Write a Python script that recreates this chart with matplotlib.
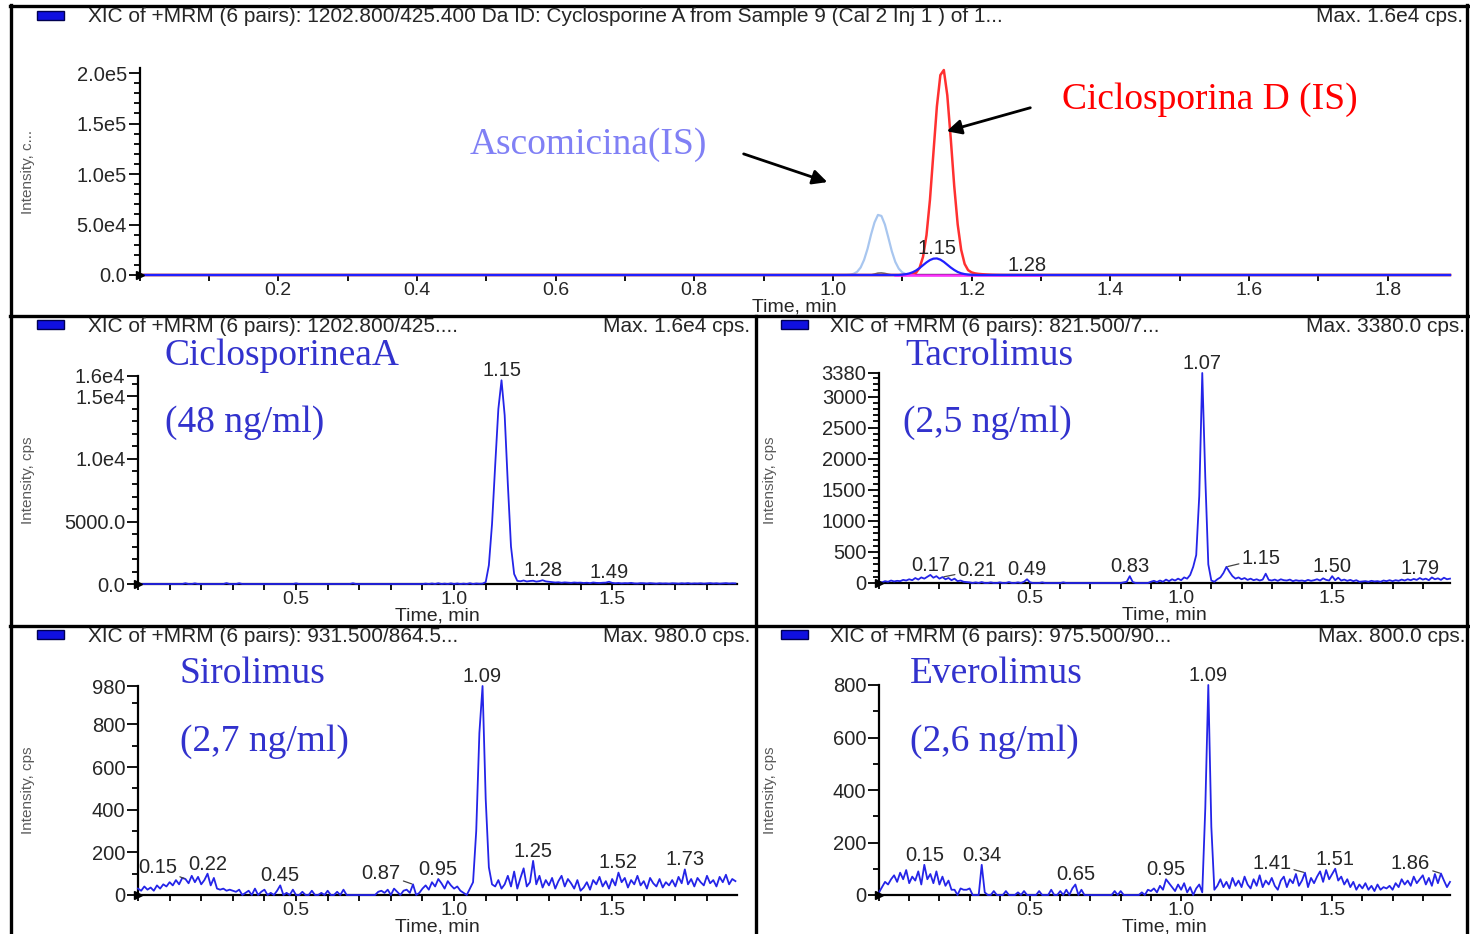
import numpy as np
import matplotlib.pyplot as plt
from matplotlib.lines import Line2D
from matplotlib.patches import Rectangle
from matplotlib.ticker import FixedLocator, FixedFormatter, MultipleLocator, FormatStrFormatter

plt.rcParams['font.family'] = ['Liberation Sans', 'DejaVu Sans']

W, H = 1470, 934

# ---- data -------------------------------------------------------------
# scan times, min
t_scan = np.round(np.arange(0, 1.895, 0.01), 2)
t_top = np.concatenate(([0.0], np.round(np.arange(1.0, 1.2501, 0.005), 3), [1.89]))

# top panel: overlay of the IS / analyte traces (cps)
asco_top = [0,
            0, 0, 0, 30, 100, 380, 1200, 3200, 7400, 15000,
            26000, 40000, 52000, 59500, 58500, 50000, 37000, 23500, 13000, 6300,
            2600, 950, 300, 80, 0, 0, 0, 0, 0, 0,
            0, 0, 0, 0, 0, 0, 0, 0, 0, 0,
            0, 0, 0, 0, 0, 0, 0, 0, 0, 0,
            0, 0]
grey_top = [0,
            0, 0, 0, 0, 0, 0, 0, 0, 0, 0,
            0, 0, 900, 1900, 2100, 1600, 700, 0, 0, 0,
            0, 0, 0, 0, 0, 0, 0, 0, 0, 0,
            0, 0, 0, 0, 0, 0, 0, 0, 0, 0,
            0, 0, 0, 0, 0, 0, 0, 0, 0, 0,
            0, 0]
cyclod_top = [0,
              0, 0, 0, 0, 0, 0, 0, 0, 0, 0,
              0, 0, 0, 0, 0, 0, 0, 0, 0, 0,
              0, 40, 160, 660, 2300, 7000, 18000, 39500, 74500, 121000,
              167000, 198000, 203000, 178000, 135000, 88000, 50000, 25000, 11000, 4800,
              2600, 1600, 1100, 800, 550, 350, 200, 120, 60, 20,
              0, 0]
cycloa_top = [0,
              0, 0, 0, 0, 0, 0, 0, 0, 0, 0,
              0, 0, 0, 0, 0, 0, 0, 0, 0, 0,
              350, 780, 1500, 2700, 4500, 6900, 9700, 12500, 14800, 16200,
              16400, 15200, 13000, 10200, 7400, 5000, 3000, 1700, 900, 430,
              190, 80, 0, 0, 0, 0, 0, 0, 0, 0,
              0, 0]
t_magenta = [1.09, 1.30]
magenta_top = [0, 0]

cyclo = [0, 0, 0, 0, 0, 0, 0, 0, 0, 0,
         0, 0, 0, 0, 0, 60, 0, 0, 50, 0,
         0, 0, 0, 0, 0, 0, 0, 0, 70, 0,
         0, 0, 60, 0, 0, 0, 0, 0, 0, 0,
         0, 0, 0, 0, 0, 0, 0, 0, 0, 0,
         50, 0, 0, 0, 0, 0, 0, 0, 0, 0,
         0, 0, 0, 0, 0, 0, 0, 0, 60, 0,
         0, 0, 0, 0, 0, 0, 0, 0, 0, 0,
         0, 0, 0, 0, 0, 0, 0, 0, 0, 0,
         0, 30, 0, 40, 0, 60, 0, 30, 0, 50,
         0, 40, 0, 30, 0, 60, 0, 40, 20, 30,
         150, 1500, 4800, 9500, 14000, 16300, 13500, 8000, 3000, 800,
         250, 220, 280, 200, 240, 260, 190, 230, 300, 210,
         180, 150, 120, 140, 100, 130, 110, 90, 120, 100,
         110, 80, 100, 70, 120, 90, 80, 100, 110, 180,
         90, 60, 80, 50, 70, 60, 90, 50, 40, 70,
         60, 40, 70, 50, 30, 60, 40, 50, 30, 60,
         50, 30, 60, 40, 70, 30, 50, 40, 60, 30,
         50, 70, 40, 60, 30, 50, 70, 40, 60, 50]

tacro = [20, 10, 30, 20, 40, 25, 35, 30, 50, 40,
         60, 45, 80, 55, 90, 70, 100, 130, 85, 110,
         70, 95, 60, 80, 45, 70, 30, 40, 20, 15,
         10, 0, 10, 0, 15, 0, 0, 10, 0, 0,
         10, 0, 0, 15, 0, 0, 10, 0, 20, 60,
         10, 0, 0, 0, 10, 0, 0, 0, 0, 0,
         0, 10, 0, 0, 0, 0, 0, 0, 0, 0,
         0, 0, 0, 0, 0, 0, 0, 0, 0, 0,
         0, 10, 20, 110, 15, 0, 0, 0, 0, 0,
         20, 35, 15, 40, 20, 55, 30, 60, 40, 70,
         45, 90, 70, 130, 260, 450, 1400, 3380, 1700, 300,
         40, 20, 60, 90, 160, 260, 180, 110, 70, 90,
         60, 80, 50, 70, 45, 60, 40, 55, 150, 50,
         40, 55, 35, 60, 45, 40, 55, 30, 45, 35,
         40, 30, 50, 35, 45, 60, 40, 75, 50, 40,
         110, 45, 85, 40, 55, 35, 50, 30, 45, 20,
         25, 30, 20, 35, 25, 30, 20, 40, 30, 45,
         30, 45, 35, 55, 40, 60, 45, 65, 50, 80,
         55, 70, 45, 90, 60, 75, 50, 85, 60, 70]

siro = [30, 20, 40, 25, 35, 20, 45, 30, 50, 40,
        60, 45, 70, 50, 80, 75, 55, 90, 60, 85,
        50, 70, 100, 45, 80, 30, 25, 30, 20, 25,
        20, 15, 25, 0, 10, 20, 0, 30, 0, 15,
        25, 0, 10, 0, 20, 45, 0, 10, 0, 25,
        0, 0, 15, 0, 0, 20, 0, 0, 10, 0,
        20, 0, 0, 15, 0, 25, 0, 0, 0, 0,
        0, 0, 0, 0, 0, 0, 15, 20, 10, 25,
        0, 30, 15, 0, 20, 25, 10, 50, 0, 10,
        30, 45, 25, 60, 40, 75, 55, 30, 65, 45,
        30, 40, 20, 10, 0, 30, 60, 300, 760, 980,
        450, 130, 50, 40, 70, 30, 50, 90, 40, 110,
        30, 80, 125, 40, 60, 160, 50, 90, 35, 70,
        45, 80, 30, 65, 90, 40, 75, 55, 30, 70,
        20, 35, 60, 25, 70, 50, 85, 40, 65, 30,
        75, 45, 105, 60, 80, 35, 70, 50, 90, 45,
        65, 30, 80, 55, 40, 75, 35, 60, 45, 70,
        40, 85, 55, 120, 50, 75, 40, 80, 60, 45,
        90, 55, 70, 40, 85, 60, 95, 50, 75, 65]

evero = [10, 30, 50, 40, 60, 75, 50, 85, 60, 95,
         45, 70, 55, 90, 40, 115, 60, 80, 45, 90,
         40, 70, 35, 55, 20, 20, 0, 25, 20, 20,
         25, 0, 0, 0, 115, 10, 0, 0, 15, 0,
         0, 0, 15, 0, 0, 0, 10, 0, 15, 0,
         0, 0, 0, 15, 0, 0, 0, 20, 0, 0,
         15, 0, 20, 0, 25, 40, 0, 20, 0, 0,
         0, 0, 0, 0, 0, 0, 0, 0, 15, 0,
         15, 0, 0, 0, 0, 0, 0, 10, 0, 20,
         15, 25, 10, 35, 20, 60, 45, 30, 15, 40,
         20, 45, 10, 30, 0, 25, 40, 10, 330, 800,
         260, 20, 35, 60, 30, 50, 25, 65, 35, 55,
         30, 70, 40, 25, 60, 35, 75, 30, 55, 40,
         65, 35, 20, 55, 70, 30, 60, 45, 80, 35,
         55, 85, 30, 65, 45, 70, 90, 50, 95, 60,
         80, 100, 55, 70, 40, 60, 30, 50, 20, 40,
         25, 45, 20, 35, 15, 40, 20, 30, 25, 35,
         20, 45, 30, 60, 40, 55, 35, 70, 45, 60,
         75, 40, 65, 35, 80, 45, 82, 55, 30, 50]

# retention-time labels per trace
top_peaks = [1.15, 1.28]
cyclo_peaks = [1.15, 1.28, 1.49]
tacro_peaks = [0.17, 0.21, 0.49, 0.83, 1.07, 1.15, 1.50, 1.79]
siro_peaks = [0.15, 0.22, 0.45, 0.87, 0.95, 1.09, 1.25, 1.52, 1.73]
evero_peaks = [0.15, 0.34, 0.65, 0.95, 1.09, 1.41, 1.51, 1.86]

headers = ['XIC of +MRM (6 pairs): 1202.800/425.400 Da ID: Cyclosporine A from Sample 9 (Cal 2 Inj 1 ) of 1...',
           'XIC of +MRM (6 pairs): 1202.800/425....',
           'XIC of +MRM (6 pairs): 821.500/7...',
           'XIC of +MRM (6 pairs): 931.500/864.5...',
           'XIC of +MRM (6 pairs): 975.500/90...']
max_labels = ['Max. 1.6e4 cps.', 'Max. 1.6e4 cps.', 'Max. 3380.0 cps.', 'Max. 980.0 cps.', 'Max. 800.0 cps.']

# ---- figure -----------------------------------------------------------
fig = plt.figure(figsize=(W / 100, H / 100), dpi=100)
SERIF = ['Liberation Serif', 'DejaVu Serif']
TXT = '#262626'
TRACE = '#2424e8'
FS = 14.5


def px_axes(x0, y0, x1, y1):
    return fig.add_axes([x0 / W, 1 - y1 / H, (x1 - x0) / W, (y1 - y0) / H])


def ftext(x, y, s, **kw):
    return fig.text(x / W, 1 - y / H, s, **kw)


def style(ax, xmax, xmajor, ymax, yticks, ylabels, yminor):
    ax.set_xlim(0, xmax)
    ax.set_ylim(0, ymax)
    for s in ['top', 'right']:
        ax.spines[s].set_visible(False)
    for s in ['left', 'bottom']:
        ax.spines[s].set_linewidth(1.6)
    ax.patch.set_alpha(0)
    ax.xaxis.set_major_locator(FixedLocator(xmajor))
    ax.xaxis.set_major_formatter(FormatStrFormatter('%.1f'))
    ax.xaxis.set_minor_locator(MultipleLocator(0.1))
    ax.yaxis.set_major_locator(FixedLocator(yticks))
    ax.yaxis.set_major_formatter(FixedFormatter(ylabels))
    ax.yaxis.set_minor_locator(MultipleLocator(yminor))
    ax.tick_params(which='both', direction='out', width=1.3, labelsize=FS, labelcolor=TXT)
    ax.tick_params(axis='y', which='major', length=8, pad=1)
    ax.tick_params(axis='y', which='minor', length=4)
    ax.tick_params(axis='x', which='both', length=4, pad=1, labelsize=14)
    ax.set_xlabel('Time, min', fontsize=14, color=TXT, labelpad=-0.5)
    ax.plot([0], [0], marker='>', color='black', ms=6, clip_on=False, zorder=6)


def peak_labels(ax, times, vals, peaks, leaders):
    times = np.asarray(times)
    for p in peaks:
        y = vals[int(np.argmin(np.abs(times - p)))]
        if p in leaders:
            ax.annotate(f'{p:.2f}', xy=(p, y), xytext=leaders[p], textcoords='offset points',
                        ha='center', va='center', fontsize=FS, color=TXT, annotation_clip=False,
                        arrowprops=dict(arrowstyle='-', color='#444444', lw=0.9, shrinkA=0, shrinkB=1))
        else:
            ax.annotate(f'{p:.2f}', xy=(p, y), xytext=(0, 3), textcoords='offset points',
                        ha='center', va='baseline', fontsize=FS, color=TXT, annotation_clip=False)


# top panel
ax0 = px_axes(139.5, 68, 1450, 275)
style(ax0, 1.89, [0.2, 0.4, 0.6, 0.8, 1.0, 1.2, 1.4, 1.6, 1.8], 2.05e5,
      [0, 5e4, 1e5, 1.5e5, 2e5], ['0.0', '5.0e4', '1.0e5', '1.5e5', '2.0e5'], 1e4)
ax0.plot(t_top, asco_top, color='#a8c6ef', lw=1.6, clip_on=False, zorder=2)
ax0.plot(t_top, grey_top, color='#707070', lw=1.2, clip_on=False, zorder=2)
ax0.plot(t_top, cyclod_top, color='#ff3030', lw=1.8, clip_on=False, zorder=3)
ax0.plot(t_magenta, magenta_top, color='#ff30ff', lw=1.8, clip_on=False, zorder=3)
ax0.plot(t_top, cycloa_top, color='#2020ff', lw=1.6, clip_on=False, zorder=4)
peak_labels(ax0, t_top, cycloa_top, top_peaks, {})

# four single-analyte panels
ax1 = px_axes(138, 376, 737, 584)
style(ax1, 1.895, [0.5, 1.0, 1.5], 16640, [0, 5000, 10000, 15000, 16640],
      ['0.0', '5000.0', '1.0e4', '1.5e4', '1.6e4'], 1000)
ax1.plot(t_scan, cyclo, color=TRACE, lw=1.3, clip_on=False, zorder=3)
peak_labels(ax1, t_scan, cyclo, cyclo_peaks, {})

ax2 = px_axes(879, 373, 1450, 583)
style(ax2, 1.89, [0.5, 1.0, 1.5], 3380, [0, 500, 1000, 1500, 2000, 2500, 3000, 3380],
      ['0', '500', '1000', '1500', '2000', '2500', '3000', '3380'], 100)
ax2.plot(t_scan, tacro, color=TRACE, lw=1.3, clip_on=False, zorder=3)
peak_labels(ax2, t_scan, tacro, tacro_peaks, {0.21: (25, 5), 1.15: (25, 6)})

ax3 = px_axes(138, 686, 737, 895)
style(ax3, 1.895, [0.5, 1.0, 1.5], 980, [0, 200, 400, 600, 800, 980],
      ['0', '200', '400', '600', '800', '980'], 100)
ax3.plot(t_scan, siro, color=TRACE, lw=1.3, clip_on=False, zorder=3)
peak_labels(ax3, t_scan, siro, siro_peaks, {0.15: (-20, 8), 0.87: (-23, 8)})

ax4 = px_axes(879, 685, 1450, 895)
style(ax4, 1.89, [0.5, 1.0, 1.5], 800, [0, 200, 400, 600, 800],
      ['0', '200', '400', '600', '800'], 100)
ax4.plot(t_scan, evero, color=TRACE, lw=1.3, clip_on=False, zorder=3)
peak_labels(ax4, t_scan, evero, evero_peaks, {1.41: (-24, 6.5), 1.86: (-22, 7)})

# panel frames
for (x0, y0, x1, y1) in [(10, 6, 1468, 6), (10, 316, 1468, 316), (10, 626, 1468, 626),
                         (11, 5, 11, 934), (1467, 5, 1467, 934), (756, 316, 756, 934)]:
    fig.add_artist(Line2D([x0 / W, x1 / W], [1 - y0 / H, 1 - y1 / H], transform=fig.transFigure,
                          color='black', lw=2.4))

# header rows
for (bx, by, tx, mx, s, m) in [(37, 11, 88, 1463, headers[0], max_labels[0]),
                               (37, 320, 88, 750, headers[1], max_labels[1]),
                               (781, 320, 830, 1465, headers[2], max_labels[2]),
                               (37, 630, 88, 750, headers[3], max_labels[3]),
                               (781, 630, 830, 1465, headers[4], max_labels[4])]:
    fig.add_artist(Rectangle((bx / W, 1 - (by + 9) / H), 27 / W, 9 / H, transform=fig.transFigure,
                             facecolor='#1010e0', edgecolor='#000050', lw=1))
    ftext(tx, by + 6, s, fontsize=15, color=TXT, va='center', ha='left')
    ftext(mx, by + 6, m, fontsize=15, color=TXT, va='center', ha='right')

# y axis titles
for (x, y, s) in [(28, 172, 'Intensity, c...'), (28, 480, 'Intensity, cps'), (770, 480, 'Intensity, cps'),
                  (28, 790, 'Intensity, cps'), (770, 790, 'Intensity, cps')]:
    ftext(x, y, s, rotation=90, fontsize=11, color='#5a5a5a', ha='center', va='center')

# compound names
BLUE = '#3232cd'
ftext(470, 145, 'Ascomicina(IS)', family=SERIF, fontsize=27, color='#8080f5', va='center')
ftext(1062, 100, 'Ciclosporina D (IS)', family=SERIF, fontsize=27, color='#ff0000', va='center')
ftext(165, 356, 'CiclosporineaA', family=SERIF, fontsize=27, color=BLUE, va='center')
ftext(165, 423, '(48 ng/ml)', family=SERIF, fontsize=27, color=BLUE, va='center')
ftext(905, 356, 'Tacrolimus', family=SERIF, fontsize=27, color=BLUE, va='center')
ftext(903, 423, '(2,5 ng/ml)', family=SERIF, fontsize=27, color=BLUE, va='center')
ftext(180, 674, 'Sirolimus', family=SERIF, fontsize=27, color=BLUE, va='center')
ftext(180, 742, '(2,7 ng/ml)', family=SERIF, fontsize=27, color=BLUE, va='center')
ftext(910, 674, 'Everolimus', family=SERIF, fontsize=27, color=BLUE, va='center')
ftext(910, 742, '(2,6 ng/ml)', family=SERIF, fontsize=27, color=BLUE, va='center')

# arrows pointing at the internal standards
for (x0, y0, x1, y1) in [(741, 153, 830, 183), (1033, 107, 944, 132)]:
    ax0.annotate('', xy=(x1 / W, 1 - y1 / H), xycoords='figure fraction',
                 xytext=(x0 / W, 1 - y0 / H), textcoords='figure fraction',
                 arrowprops=dict(arrowstyle='-|>', color='black', lw=2, mutation_scale=22))

fig.savefig('out.png', dpi=100)
